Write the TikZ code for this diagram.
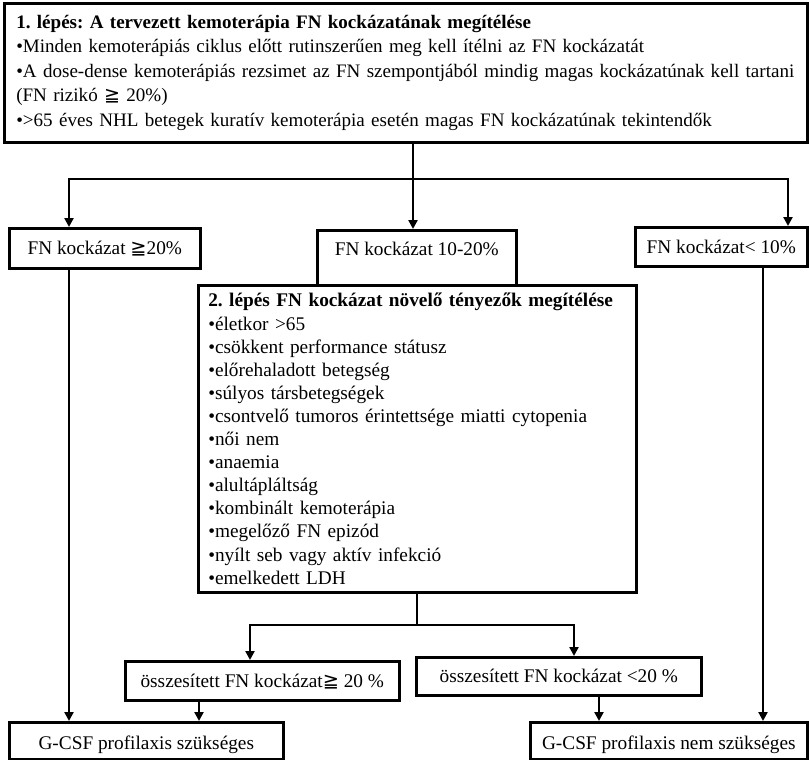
\documentclass[tikz,border=0pt]{standalone}
\usepackage{fontspec}
\setmainfont{Liberation Serif}
\newfontfamily\symfont{DejaVu Sans}
\usetikzlibrary{arrows.meta}
\newcommand\geqqsym{{\symfont ≧}}
\frenchspacing

\begin{document}
\begin{tikzpicture}[x=1pt,y=-1pt,
  box/.style={draw, line width=2.6pt, rectangle, anchor=north west,
    inner ysep=0pt, font=\fontsize{19.3}{23.1}\selectfont},
  one/.style={box, align=center, inner xsep=0pt,
    text height=16pt, text depth=3.2pt},
  link/.style={line width=2.6pt},
  conn/.style={line width=2.6pt, -{Triangle[length=9pt,width=9pt]}}]

\useasboundingbox (0,0) rectangle (809,760);

% step 1
\node[box, align=left, inner xsep=12pt, text width=779pt, minimum height=139pt,
      font=\fontsize{19.05}{24.5}\selectfont] (top) at (3,2)
  {\textbf{1. lépés: A tervezett kemoterápia FN kockázatának megítélése}\\
   •Minden kemoterápiás ciklus előtt rutinszerűen meg kell ítélni az FN kockázatát\\
   \mbox{•A dose-dense kemoterápiás rezsimet az FN szempontjából mindig magas kockázatúnak kell tartani}\\
   (FN rizikó \geqqsym{} 20\%)\\
   •>65 éves NHL betegek kuratív kemoterápia esetén magas FN kockázatúnak tekintendők};

% risk classes
\node[one, minimum width=191pt, minimum height=40pt] (L1) at (8,227) {FN kockázat \geqqsym20\%};
\node[one, minimum width=199pt, minimum height=55pt, text depth=20.2pt] (M1) at (316,229) {FN kockázat 10-20\%};
\node[one, minimum width=172pt, minimum height=39pt] (R1) at (634,226) {FN kockázat< 10\%};

% step 2
\node[box, align=left, inner xsep=10pt, text width=418pt, minimum height=307pt] (S2) at (197,284)
  {\textbf{2. lépés FN kockázat növelő tényezők megítélése}\\
   •életkor >65\\
   •csökkent performance státusz\\
   •előrehaladott betegség\\
   •súlyos társbetegségek\\
   •csontvelő tumoros érintettsége miatti cytopenia\\
   •női nem\\
   •anaemia\\
   •alultápláltság\\
   •kombinált kemoterápia\\
   •megelőző FN epizód\\
   •nyílt seb vagy aktív infekció\\
   •emelkedett LDH};

% combined risk
\node[one, minimum width=274pt, minimum height=39pt] (C1) at (124,660) {összesített FN kockázat\geqqsym{} 20 \%};
\node[one, minimum width=285pt, minimum height=38pt] (C2) at (415,656) {összesített FN kockázat <20 \%};

% decisions
\node[one, minimum width=274pt, minimum height=37pt, text height=18pt, text depth=1.2pt] (BL) at (8,721) {G-CSF profilaxis szükséges};
\node[one, minimum width=277pt, minimum height=37pt, text height=18pt, text depth=1.2pt] (BR) at (529,721) {G-CSF profilaxis nem szükséges};

% tap points on the boxes
\coordinate (jt) at (413,179);
\coordinate (L1in) at (69,0 |- L1.north);
\coordinate (R1in) at (788,0 |- R1.north);
\coordinate (M1in) at (413,0 |- M1.north);
\coordinate (topout) at (413,0 |- top.south);
\coordinate (L1out) at (69,0 |- L1.south);
\coordinate (BLin1) at (69,0 |- BL.north);
\coordinate (R1out) at (763,0 |- R1.south);
\coordinate (BRin1) at (763,0 |- BR.north);
\coordinate (S2out) at (417,0 |- S2.south);
\coordinate (js) at (417,625);
\coordinate (C1in) at (250,0 |- C1.north);
\coordinate (C2in) at (574,0 |- C2.north);
\coordinate (C1out) at (199,0 |- C1.south);
\coordinate (BLin2) at (199,0 |- BL.north);
\coordinate (C2out) at (599,0 |- C2.south);
\coordinate (BRin2) at (599,0 |- BR.north);

% connectors
\draw[conn] (topout) -- (M1in);
\draw[conn] (jt) -| (L1in);
\draw[conn] (jt) -| (R1in);
\draw[conn] (L1out) -- (BLin1);
\draw[conn] (R1out) -- (BRin1);
\draw[link] (S2out) -- (js);
\draw[conn] (js) -| (C1in);
\draw[conn] (js) -| (C2in);
\draw[conn] (C1out) -- (BLin2);
\draw[conn] (C2out) -- (BRin2);
\end{tikzpicture}
\end{document}
